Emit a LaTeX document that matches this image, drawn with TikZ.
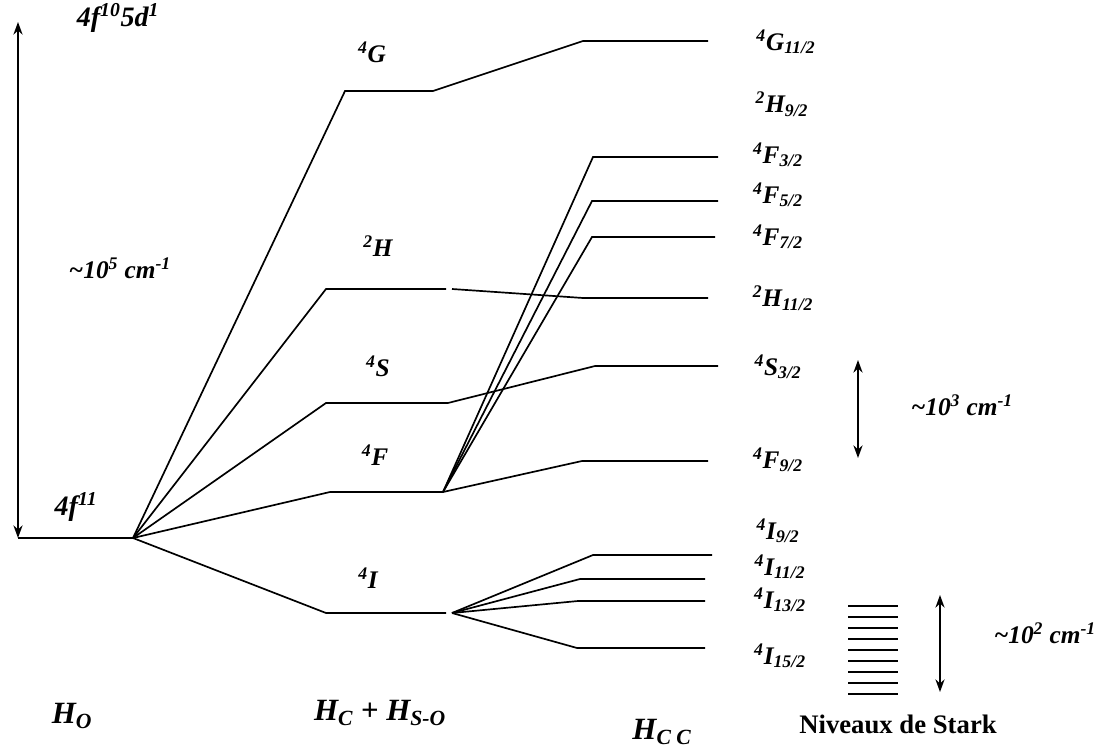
\documentclass[tikz,border=0pt]{standalone}
\usepackage{fontspec}
\setmainfont{Liberation Serif}
\usetikzlibrary{arrows.meta}
\begin{document}
\begin{tikzpicture}[x=0.025cm, y=-0.025cm, line width=1.2pt, >={Stealth[length=9pt,width=6.5pt]},
    lab/.style={font=\fontsize{18}{20}\selectfont\bfseries\itshape, inner sep=0pt},
    ham/.style={font=\fontsize{22}{24}\selectfont\bfseries\itshape, inner sep=0pt}]
    \useasboundingbox (0,0) rectangle (1110,747);

    % 能级端点
    \coordinate (o0) at (18,538);   \coordinate (o1) at (133,538);
    \coordinate (G0) at (345,91);   \coordinate (G1) at (433,91);
    \coordinate (G2) at (583,41);   \coordinate (G3) at (708,41);
    \coordinate (H0) at (326,289);  \coordinate (H1) at (446,289);
    \coordinate (H2) at (452,289);  \coordinate (H3) at (583,298);
    \coordinate (H4) at (708,298);
    \coordinate (S0) at (326,403);  \coordinate (S1) at (448,403);
    \coordinate (S2) at (595,366);  \coordinate (S3) at (718,366);
    \coordinate (F0) at (330,492);  \coordinate (F1) at (443,492);
    \coordinate (I0) at (326,613);  \coordinate (I1) at (446,613);
    \coordinate (I2) at (452,613);

    % 自由离子
    \draw[<->] (18,22) -- (o0);
    \draw (o0) -- (o1);
    \node[lab, font=\fontsize{20}{22}\selectfont\bfseries\itshape] (conf1) at (118,18) {4f\textsuperscript{10}5d\textsuperscript{1}};
    \node[lab] (dE1) at (120,268) {\textasciitilde 10\textsuperscript{5} cm\textsuperscript{-1}};
    \node[lab, font=\fontsize{20}{22}\selectfont\bfseries\itshape] (conf0) at (76,507) {4f\textsuperscript{11}};

    % 库仑 + 自旋轨道
    \draw (o1) -- (G0) -- (G1) -- (G2) -- (G3);
    \draw (o1) -- (H0) -- (H1);
    \draw (H2) -- (H3) -- (H4);
    \draw (o1) -- (S0) -- (S1) -- (S2) -- (S3);
    \draw (o1) -- (F0) -- (F1);
    \draw (o1) -- (I0) -- (I1);
    \node[lab] (tG) at (372,52) {\textsuperscript{4}G};
    \node[lab] (tH) at (378,246) {\textsuperscript{2}H};
    \node[lab] (tS) at (378,366) {\textsuperscript{4}S};
    \node[lab] (tF) at (375,455) {\textsuperscript{4}F};
    \node[lab] (tI) at (368,578) {\textsuperscript{4}I};

    % 4F 分裂
    \draw (F1) -- (593,157) -- (718,157);
    \draw (F1) -- (592,201) -- (718,201);
    \draw (F1) -- (592,237) -- (715,237);
    \draw (F1) -- (582,461) -- (708,461);

    % 4I 分裂
    \draw (I2) -- (593,555) -- (712,555);
    \draw (I2) -- (580,579) -- (705,579);
    \draw (I2) -- (578,601) -- (705,601);
    \draw (I2) -- (577,648) -- (705,648);

    % 光谱项
    \node[lab] (J1) at (786,42) {\textsuperscript{4}G\textsubscript{11/2}};
    \node[lab] (J2) at (782,104) {\textsuperscript{2}H\textsubscript{9/2}};
    \node[lab] (J3) at (778,155) {\textsuperscript{4}F\textsubscript{3/2}};
    \node[lab] (J4) at (778,195) {\textsuperscript{4}F\textsubscript{5/2}};
    \node[lab] (J5) at (778,237) {\textsuperscript{4}F\textsubscript{7/2}};
    \node[lab] (J6) at (783,298) {\textsuperscript{2}H\textsubscript{11/2}};
    \node[lab] (J7) at (778,367) {\textsuperscript{4}S\textsubscript{3/2}};
    \node[lab] (J8) at (778,460) {\textsuperscript{4}F\textsubscript{9/2}};
    \node[lab] (J9) at (778,531) {\textsuperscript{4}I\textsubscript{9/2}};
    \node[lab] (J10) at (780,567) {\textsuperscript{4}I\textsubscript{11/2}};
    \node[lab] (J11) at (780,600) {\textsuperscript{4}I\textsubscript{13/2}};
    \node[lab] (J12) at (780,656) {\textsuperscript{4}I\textsubscript{15/2}};

    % Stark
    \draw[<->] (858,360) -- (858,458);
    \node[lab] (dE2) at (962,405) {\textasciitilde 10\textsuperscript{3} cm\textsuperscript{-1}};
    \foreach \k in {0,...,8}
        \draw (848,606+11*\k) -- (898,606+11*\k);
    \draw[<->] (940,595) -- (940,692);
    \node[lab] (dE3) at (1045,633) {\textasciitilde 10\textsuperscript{2} cm\textsuperscript{-1}};
    \node[font=\fontsize{19}{21}\selectfont\bfseries, inner sep=0pt] (stark) at (898,724) {Niveaux de Stark};

    % 哈密顿量
    \node[ham] (h1) at (72,716) {H\textsubscript{O}};
    \node[ham] (h2) at (380,713) {H\textsubscript{C} + H\textsubscript{S-O}};
    \node[ham] (h3) at (662,732) {H\textsubscript{C C}};
\end{tikzpicture}
\end{document}
